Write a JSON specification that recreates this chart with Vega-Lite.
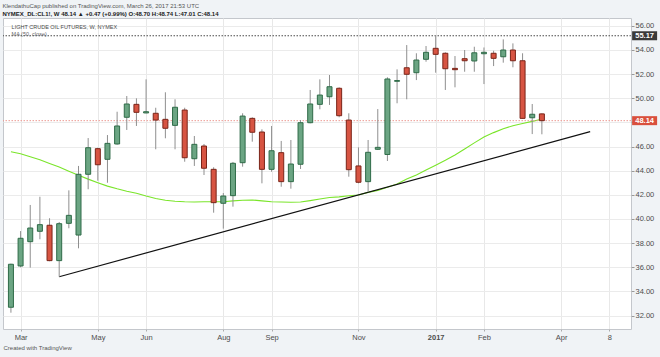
{
  "$schema": "https://vega.github.io/schema/vega-lite/v6.json",
  "width": 628,
  "height": 311,
  "autosize": {"type": "none"},
  "padding": {"left": 3, "top": 18, "right": 29, "bottom": 28},
  "background": "#f0f3f6",
  "title": {
    "text": "KlendathuCap published on TradingView.com, March 26, 2017 21:53 UTC",
    "subtitle": "NYMEX_DL:CL1!, W 48.14 ▲ +0.47 (+0.99%) O:48.70 H:48.74 L:47.01 C:48.14",
    "anchor": "start",
    "font": "Liberation Sans",
    "fontSize": 6,
    "fontWeight": "normal",
    "color": "#555555",
    "subtitleFont": "Liberation Sans",
    "subtitleFontSize": 6,
    "subtitleFontWeight": "bold",
    "subtitleColor": "#222222",
    "subtitlePadding": 2,
    "offset": 1
  },
  "config": {
    "font": "Liberation Sans",
    "view": {"fill": "#ffffff", "stroke": "#c4c7cc", "strokeWidth": 1},
    "axisY": {"tickCount": 13, "labelOverlap": false}
  },
  "datasets": {
    "candles": [
      {"date": "2016-02-29", "open": 32.69, "high": 36.30, "low": 32.24, "close": 36.25, "ma": 45.57},
      {"date": "2016-03-07", "open": 36.11, "high": 39.00, "low": 36.00, "close": 38.40, "ma": 45.40},
      {"date": "2016-03-14", "open": 38.12, "high": 41.16, "low": 35.97, "close": 39.25, "ma": 45.15},
      {"date": "2016-03-21", "open": 38.98, "high": 41.84, "low": 38.32, "close": 39.53, "ma": 44.90},
      {"date": "2016-03-28", "open": 39.48, "high": 40.06, "low": 36.50, "close": 36.55, "ma": 44.60},
      {"date": "2016-04-04", "open": 36.55, "high": 39.75, "low": 35.22, "close": 39.61, "ma": 44.30},
      {"date": "2016-04-11", "open": 39.64, "high": 42.37, "low": 39.23, "close": 40.30, "ma": 43.95},
      {"date": "2016-04-18", "open": 38.67, "high": 44.39, "low": 37.57, "close": 43.70, "ma": 43.62},
      {"date": "2016-04-25", "open": 43.70, "high": 46.70, "low": 42.46, "close": 45.90, "ma": 43.30},
      {"date": "2016-05-02", "open": 45.82, "high": 45.90, "low": 43.17, "close": 44.49, "ma": 43.00},
      {"date": "2016-05-09", "open": 44.94, "high": 46.95, "low": 43.00, "close": 46.26, "ma": 42.72},
      {"date": "2016-05-16", "open": 46.21, "high": 48.88, "low": 46.15, "close": 47.70, "ma": 42.50},
      {"date": "2016-05-23", "open": 48.42, "high": 50.18, "low": 47.37, "close": 49.52, "ma": 42.30},
      {"date": "2016-05-30", "open": 49.49, "high": 49.99, "low": 47.70, "close": 48.83, "ma": 42.13},
      {"date": "2016-06-06", "open": 48.78, "high": 51.56, "low": 48.75, "close": 48.88, "ma": 41.90},
      {"date": "2016-06-13", "open": 48.75, "high": 49.21, "low": 45.77, "close": 48.19, "ma": 41.70},
      {"date": "2016-06-20", "open": 48.25, "high": 50.49, "low": 46.68, "close": 47.51, "ma": 41.55},
      {"date": "2016-06-27", "open": 47.75, "high": 49.91, "low": 45.77, "close": 49.25, "ma": 41.47},
      {"date": "2016-07-04", "open": 49.02, "high": 49.21, "low": 44.74, "close": 45.07, "ma": 41.42},
      {"date": "2016-07-11", "open": 44.99, "high": 46.87, "low": 44.39, "close": 46.18, "ma": 41.41},
      {"date": "2016-07-18", "open": 46.04, "high": 46.21, "low": 43.64, "close": 44.20, "ma": 41.43},
      {"date": "2016-07-25", "open": 44.11, "high": 44.28, "low": 40.52, "close": 41.35, "ma": 41.43},
      {"date": "2016-08-01", "open": 41.30, "high": 42.15, "low": 39.20, "close": 41.90, "ma": 41.43},
      {"date": "2016-08-08", "open": 41.93, "high": 44.72, "low": 41.02, "close": 44.61, "ma": 41.50},
      {"date": "2016-08-15", "open": 44.66, "high": 48.75, "low": 44.33, "close": 48.52, "ma": 41.55},
      {"date": "2016-08-22", "open": 48.33, "high": 48.42, "low": 46.40, "close": 47.18, "ma": 41.57},
      {"date": "2016-08-29", "open": 47.20, "high": 47.42, "low": 42.95, "close": 44.11, "ma": 41.50},
      {"date": "2016-09-05", "open": 44.11, "high": 47.70, "low": 43.91, "close": 45.65, "ma": 41.43},
      {"date": "2016-09-12", "open": 45.49, "high": 46.46, "low": 42.67, "close": 43.09, "ma": 41.40},
      {"date": "2016-09-19", "open": 43.09, "high": 46.54, "low": 42.51, "close": 44.55, "ma": 41.38},
      {"date": "2016-09-26", "open": 44.53, "high": 48.19, "low": 44.14, "close": 47.97, "ma": 41.40},
      {"date": "2016-10-03", "open": 47.97, "high": 50.68, "low": 47.92, "close": 49.52, "ma": 41.52},
      {"date": "2016-10-10", "open": 49.49, "high": 51.56, "low": 49.08, "close": 50.26, "ma": 41.65},
      {"date": "2016-10-17", "open": 50.12, "high": 51.92, "low": 49.44, "close": 50.95, "ma": 41.78},
      {"date": "2016-10-24", "open": 50.82, "high": 50.90, "low": 48.42, "close": 48.55, "ma": 41.83},
      {"date": "2016-10-31", "open": 48.19, "high": 48.75, "low": 43.50, "close": 44.08, "ma": 41.92},
      {"date": "2016-11-07", "open": 44.39, "high": 45.93, "low": 42.95, "close": 43.04, "ma": 41.99},
      {"date": "2016-11-14", "open": 43.09, "high": 46.54, "low": 42.26, "close": 45.52, "ma": 42.20},
      {"date": "2016-11-21", "open": 45.77, "high": 49.10, "low": 45.71, "close": 45.93, "ma": 42.37},
      {"date": "2016-11-28", "open": 45.34, "high": 51.73, "low": 44.80, "close": 51.59, "ma": 42.62},
      {"date": "2016-12-05", "open": 51.40, "high": 52.39, "low": 49.58, "close": 51.46, "ma": 42.90},
      {"date": "2016-12-12", "open": 52.52, "high": 54.40, "low": 49.91, "close": 51.98, "ma": 43.30},
      {"date": "2016-12-19", "open": 52.11, "high": 53.72, "low": 51.50, "close": 53.16, "ma": 43.65},
      {"date": "2016-12-26", "open": 53.22, "high": 54.32, "low": 53.02, "close": 53.80, "ma": 44.05},
      {"date": "2017-01-02", "open": 54.13, "high": 55.23, "low": 52.11, "close": 53.63, "ma": 44.45},
      {"date": "2017-01-09", "open": 53.72, "high": 53.80, "low": 50.68, "close": 52.44, "ma": 44.86},
      {"date": "2017-01-16", "open": 52.47, "high": 53.49, "low": 50.90, "close": 52.36, "ma": 45.30},
      {"date": "2017-01-23", "open": 53.27, "high": 53.99, "low": 52.19, "close": 53.10, "ma": 45.80},
      {"date": "2017-01-30", "open": 53.08, "high": 54.26, "low": 52.19, "close": 53.76, "ma": 46.30},
      {"date": "2017-02-06", "open": 53.68, "high": 54.20, "low": 51.17, "close": 53.80, "ma": 46.78},
      {"date": "2017-02-13", "open": 53.72, "high": 53.93, "low": 52.66, "close": 53.30, "ma": 47.15},
      {"date": "2017-02-20", "open": 53.43, "high": 54.87, "low": 52.94, "close": 53.99, "ma": 47.47},
      {"date": "2017-02-27", "open": 53.99, "high": 54.54, "low": 52.56, "close": 53.10, "ma": 47.72},
      {"date": "2017-03-06", "open": 53.10, "high": 53.72, "low": 48.30, "close": 48.33, "ma": 47.90},
      {"date": "2017-03-13", "open": 48.38, "high": 49.52, "low": 47.03, "close": 48.67, "ma": 48.08},
      {"date": "2017-03-20", "open": 48.70, "high": 48.74, "low": 47.01, "close": 48.14, "ma": 48.25}
    ],
    "trend": [
      {"date": "2016-04-04", "value": 35.22},
      {"date": "2017-04-24", "value": 47.23}
    ],
    "levels": [
      {"level": 55.17, "label": "55.17", "kind": "high"},
      {"level": 48.14, "label": "48.14", "kind": "last"}
    ]
  },
  "layer": [
    {
      "data": {"name": "candles"},
      "mark": {"type": "line", "color": "#7ae52a", "strokeWidth": 1.1},
      "encoding": {
        "x": {
          "field": "date",
          "type": "temporal",
          "scale": {
            "type": "utc",
            "domain": [
              {"year": 2016, "month": 2, "date": 26, "hours": 21, "utc": true},
              {"year": 2017, "month": 5, "date": 20, "utc": true}
            ]
          },
          "axis": {
            "title": "Created with TradingView",
            "values": [
              {"year": 2016, "month": 3, "date": 7, "utc": true},
              {"year": 2016, "month": 5, "date": 2, "utc": true},
              {"year": 2016, "month": 6, "date": 6, "utc": true},
              {"year": 2016, "month": 8, "date": 1, "utc": true},
              {"year": 2016, "month": 9, "date": 5, "utc": true},
              {"year": 2016, "month": 11, "date": 7, "utc": true},
              {"year": 2017, "month": 1, "date": 2, "utc": true},
              {"year": 2017, "month": 2, "date": 6, "utc": true},
              {"year": 2017, "month": 4, "date": 3, "utc": true},
              {"year": 2017, "month": 5, "date": 8, "utc": true}
            ],
            "labelExpr": "utcyear(datum.value) == 2017 && utcmonth(datum.value) == 0 ? '2017' : (utcyear(datum.value) == 2017 && utcmonth(datum.value) == 4 ? '8' : utcFormat(datum.value, '%b'))",
            "labelFontWeight": {"condition": {"test": "utcmonth(datum.value) == 0", "value": "bold"}, "value": "normal"},
            "labelOverlap": false,
            "labelFlush": false,
            "labelFontSize": 7.5,
            "labelColor": "#4d4d4d",
            "labelPadding": 2,
            "grid": true,
            "gridColor": "#e8e8e8",
            "domain": false,
            "tickSize": 2,
            "tickColor": "#aaaaaa",
            "titleAnchor": "start",
            "titleAlign": "left",
            "titleFontSize": 6,
            "titleFontWeight": "normal",
            "titleColor": "#555555",
            "titlePadding": 4
          }
        },
        "y": {
          "field": "ma",
          "type": "quantitative",
          "scale": {"domain": [30.89, 56.64], "nice": false, "zero": false},
          "axis": {
            "title": null,
            "orient": "right",
            "values": [32, 34, 36, 38, 40, 42, 44, 46, 48, 50, 52, 54, 56],
            "tickCount": 13,
            "labelExpr": "datum.value == 48 ? '' : format(datum.value, '.2f')",
            "labelOverlap": false,
            "grid": true,
            "gridColor": "#ebebeb",
            "domain": false,
            "tickSize": 3,
            "tickColor": "#999999",
            "labelFontSize": 7.5,
            "labelColor": "#4d4d4d",
            "labelPadding": 1
          }
        }
      }
    },
    {
      "data": {"name": "levels"},
      "mark": {"type": "rule", "strokeDash": [1.5, 1.5], "strokeWidth": 1},
      "encoding": {
        "y": {"field": "level", "type": "quantitative"},
        "color": {"condition": {"test": "datum.kind == 'last'", "value": "#ec9a92"}, "value": "#4a4a4a"}
      }
    },
    {
      "data": {"name": "trend"},
      "mark": {"type": "line", "color": "#111111", "strokeWidth": 1.2},
      "encoding": {
        "x": {"field": "date", "type": "temporal"},
        "y": {"field": "value", "type": "quantitative"}
      }
    },
    {
      "data": {"name": "candles"},
      "mark": {"type": "rule", "color": "#8f8f8f", "strokeWidth": 1},
      "encoding": {
        "x": {"field": "date", "type": "temporal"},
        "y": {"field": "low", "type": "quantitative"},
        "y2": {"field": "high"}
      }
    },
    {
      "data": {"name": "candles"},
      "mark": {"type": "bar", "width": 5, "strokeWidth": 1},
      "encoding": {
        "x": {"field": "date", "type": "temporal"},
        "y": {"field": "open", "type": "quantitative"},
        "y2": {"field": "close"},
        "color": {"condition": {"test": "datum.close >= datum.open", "value": "#6ba583"}, "value": "#d75442"},
        "stroke": {"condition": {"test": "datum.close >= datum.open", "value": "#2f6b48"}, "value": "#7a2418"}
      }
    },
    {
      "data": {"values": [{}]},
      "mark": {"type": "text", "text": "LIGHT CRUDE OIL FUTURES, W, NYMEX", "align": "left", "baseline": "middle", "fontSize": 5.5, "color": "#4a4a4a"},
      "encoding": {
        "x": {"datum": {"year": 2016, "month": 2, "date": 29, "hours": 12, "utc": true}, "type": "temporal"},
        "y": {"datum": 55.92, "type": "quantitative"}
      }
    },
    {
      "data": {"values": [{}]},
      "mark": {"type": "text", "text": "MA (50, close)", "align": "left", "baseline": "middle", "fontSize": 5.5, "color": "#666666"},
      "encoding": {
        "x": {"datum": {"year": 2016, "month": 2, "date": 29, "hours": 12, "utc": true}, "type": "temporal"},
        "y": {"datum": 55.32, "type": "quantitative"}
      }
    },
    {
      "data": {"name": "levels"},
      "mark": {"type": "point", "shape": "M-1,-0.36L1,-0.36L1,0.36L-1,0.36Z", "filled": true, "size": 625, "opacity": 1, "strokeWidth": 0, "clip": false},
      "encoding": {
        "x": {"datum": {"year": 2017, "month": 6, "date": 2, "hours": 12, "utc": true}, "type": "temporal"},
        "y": {"field": "level", "type": "quantitative"},
        "color": {"condition": {"test": "datum.kind == 'last'", "value": "#d9503d"}, "value": "#3a3a3a"}
      }
    },
    {
      "data": {"name": "levels"},
      "mark": {"type": "text", "align": "center", "baseline": "middle", "fontSize": 7.5, "fontWeight": "bold", "color": "#ffffff", "clip": false},
      "encoding": {
        "x": {"datum": {"year": 2017, "month": 6, "date": 2, "hours": 12, "utc": true}, "type": "temporal"},
        "y": {"field": "level", "type": "quantitative"},
        "text": {"field": "label"}
      }
    }
  ]
}
